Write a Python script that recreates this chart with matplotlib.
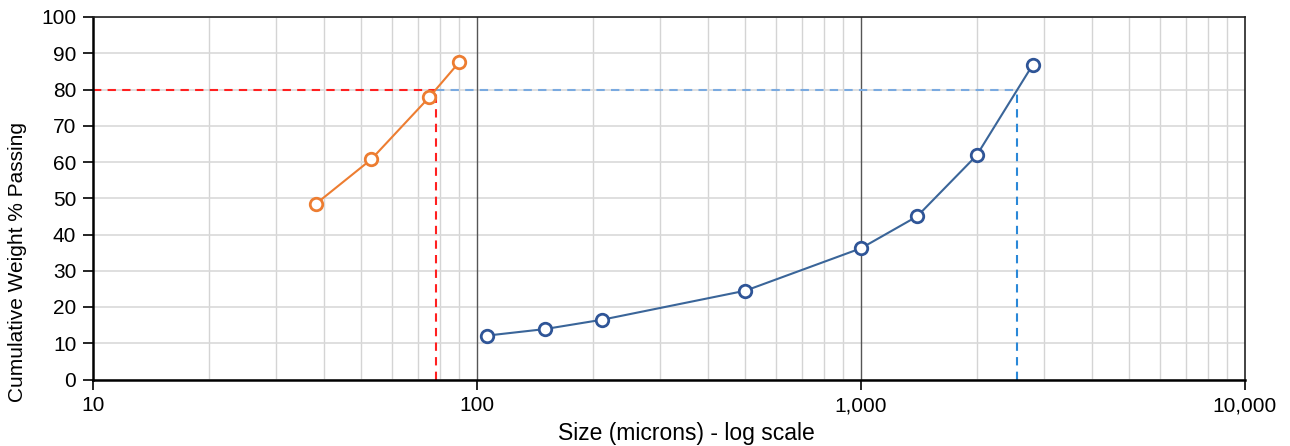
import numpy as np
import matplotlib.pyplot as plt
from matplotlib.ticker import FuncFormatter, LogLocator, MultipleLocator

plt.rcParams['font.family'] = ['Liberation Sans', 'DejaVu Sans']

# data
fine_size = [38, 53, 75, 90]
fine_pass = [48.4, 60.7, 77.8, 87.6]
coarse_size = [106, 150, 212, 500, 1000, 1400, 2000, 2800]
coarse_pass = [12.1, 13.9, 16.5, 24.5, 36.2, 45.0, 61.8, 86.8]
target = 80

# P80 for each series, interpolated in log space
p80_fine = 10 ** np.interp(target, fine_pass, np.log10(fine_size))
p80_coarse = 10 ** np.interp(target, coarse_pass, np.log10(coarse_size))

fig = plt.figure(figsize=(12.9, 4.46), dpi=100)
ax = fig.add_axes([93 / 1290, 1 - 379.5 / 446, 1152 / 1290, 362.5 / 446])

ax.set_xscale('log')
ax.set_xlim(10, 10000)
ax.set_ylim(0, 100)

# grid
ax.xaxis.set_minor_locator(LogLocator(base=10, subs=np.arange(2, 10)))
ax.yaxis.set_major_locator(MultipleLocator(10))
ax.grid(which='minor', axis='x', color='#d4d4d4', linewidth=1)
ax.grid(which='major', axis='y', color='#d9d9d9', linewidth=1.2)
for d in [100, 1000]:
    ax.axvline(d, color='#555555', linewidth=1, zorder=1)
ax.set_axisbelow(True)

# P80 guide lines
dash = (0, (4, 3))
ax.plot([10, p80_fine], [target, target], color='#ff2020', linestyle=dash, linewidth=1.5, zorder=2)
ax.plot([p80_fine, p80_fine], [0, target], color='#ff2020', linestyle=dash, linewidth=1.5, zorder=2)
ax.plot([p80_fine, p80_coarse], [target, target], color='#7aaae0', linestyle=dash, linewidth=1.5, zorder=2)
ax.plot([p80_coarse, p80_coarse], [0, target], color='#2a88d8', linestyle=dash, linewidth=1.5, zorder=2)

# series
ax.plot(fine_size, fine_pass, color='#ed7d31', linewidth=1.5, marker='o',
        markersize=9, markerfacecolor='white', markeredgewidth=2, zorder=3)
ax.plot(coarse_size, coarse_pass, color='#3a6599', linewidth=1.5, marker='o',
        markersize=9, markerfacecolor='white', markeredgewidth=2,
        markeredgecolor='#2f5597', zorder=3)

# axes styling
for s in ['left', 'bottom']:
    ax.spines[s].set_linewidth(1.8)
    ax.spines[s].set_color('black')
for s in ['top', 'right']:
    ax.spines[s].set_linewidth(1.2)
    ax.spines[s].set_color('#222222')

ax.xaxis.set_major_formatter(FuncFormatter(lambda v, p: f'{v:,.0f}'))
ax.tick_params(axis='both', which='major', direction='out', length=7, width=1.2,
               labelsize=15, colors='black')
ax.tick_params(axis='x', which='minor', length=0)
ax.tick_params(axis='x', pad=5)
ax.tick_params(axis='y', pad=5)

ax.set_xlabel('Size (microns) - log scale', fontsize=16.5)
ax.set_ylabel('Cumulative Weight % Passing', fontsize=15)
ax.xaxis.set_label_coords(0.515, -0.118)
ax.yaxis.set_label_coords(-0.057, 0.324)

plt.savefig('out.png', dpi=100)
